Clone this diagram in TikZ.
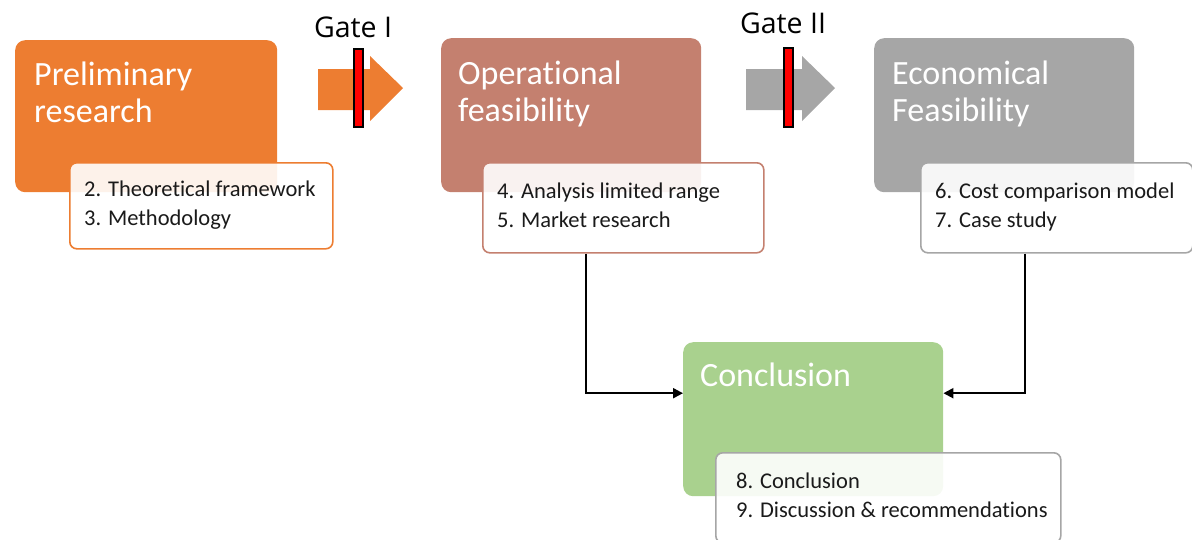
\documentclass[tikz,border=0pt]{standalone}
\usepackage{fontspec}
\setmainfont[Ligatures={NoCommon}]{Carlito}
\newfontfamily\gatefont{Open Sans}
\usetikzlibrary{arrows.meta,calc}
\definecolor{corange}{HTML}{ED7D31}
\definecolor{cbrown}{HTML}{C4806F}
\definecolor{cgray}{HTML}{A6A6A6}
\definecolor{cgreen}{HTML}{A9D18E}
\definecolor{ctext}{HTML}{1A1A1A}
\begin{document}
\begin{tikzpicture}[x=1pt,y=-1pt,
  phase/.style={rectangle,rounded corners=10pt,draw=none,anchor=north west,inner sep=0pt},
  detail/.style={rectangle,rounded corners=7pt,line width=1.6pt,fill=white,fill opacity=0.9,text opacity=1,anchor=north west,inner sep=0pt},
  title/.style={anchor=base west,inner sep=0pt,text=white,font=\fontsize{34}{37}\selectfont},
  item/.style={anchor=base west,inner sep=0pt,text=ctext,font=\fontsize{22.5}{29}\selectfont},
  gatelbl/.style={anchor=base,inner sep=0pt,text=black,font=\gatefont\fontsize{28.5}{32}\selectfont},
  bar/.style={fill=red,draw=black,line width=1.4pt},
  conn/.style={draw=black,line width=2pt,-{Triangle[length=10pt,width=10pt]}}]
\useasboundingbox (0,0) rectangle (1192,539);

% phase boxes
\node[phase,fill=corange,minimum width=262pt,minimum height=152pt] (pre) at (15,40) {};
\node[phase,fill=cbrown,minimum width=260pt,minimum height=154pt] (ope) at (441,38) {};
\node[phase,fill=cgray,minimum width=260pt,minimum height=154pt] (eco) at (874,38) {};
\node[phase,fill=cgreen,minimum width=260pt,minimum height=154pt] (con) at (683,342) {};

\node[title] (preT1) at (34,85) {Preliminary};
\node[title] (preT2) at (34,122) {research};
\node[title] (opeT1) at (458,84) {Operational};
\node[title] (opeT2) at (458,121) {feasibility};
\node[title] (ecoT1) at (892,84) {Economical};
\node[title] (ecoT2) at (892,121) {Feasibility};
\node[title] (conT1) at (700,386) {Conclusion};

% detail boxes
\node[detail,draw=corange,minimum width=263pt,minimum height=86pt] (d1) at (69,162) {};
\node[detail,draw=cbrown,minimum width=281pt,minimum height=90pt] (d2) at (482,162) {};
\node[detail,draw=cgray,minimum width=272pt,minimum height=90pt] (d3) at (920,162) {};
\node[detail,draw=cgray,minimum width=345pt,minimum height=90pt] (d4) at (715,452) {};

\node[item] (i2) at (84,196) {2. Theoretical framework};
\node[item] (i3) at (84,225) {3. Methodology};
\node[item] (i4) at (497,198) {4. Analysis limited range};
\node[item] (i5) at (497,227) {5. Market research};
\node[item] (i6) at (935,198) {6. Cost comparison model};
\node[item] (i7) at (935,227) {7. Case study};
\node[item] (i8) at (736,488) {8. Conclusion};
\node[item] (i9) at (736,517) {9. Discussion \& recommendations};

% gates
\fill[corange] (318,69) -- (370,69) -- (370,56) -- (403,88) -- (370,121) -- (370,110) -- (318,110) -- cycle;
\draw[bar] (354,49) rectangle (363,127);
\node[gatelbl] (g1) at (353,37) {Gate I};

\fill[cgray] (746,69) -- (802,69) -- (802,56) -- (835,88) -- (802,121) -- (802,110) -- (746,110) -- cycle;
\draw[bar] (784,48) rectangle (793,127);
\node[gatelbl] (g2) at (783,33) {Gate II};

% connectors
\draw[conn] ([xshift=-37.5pt]d2.south) |- ([yshift=26pt]con.west);
\draw[conn] ([xshift=-32pt]d3.south) |- ([yshift=26pt]con.east);
\end{tikzpicture}
\end{document}
